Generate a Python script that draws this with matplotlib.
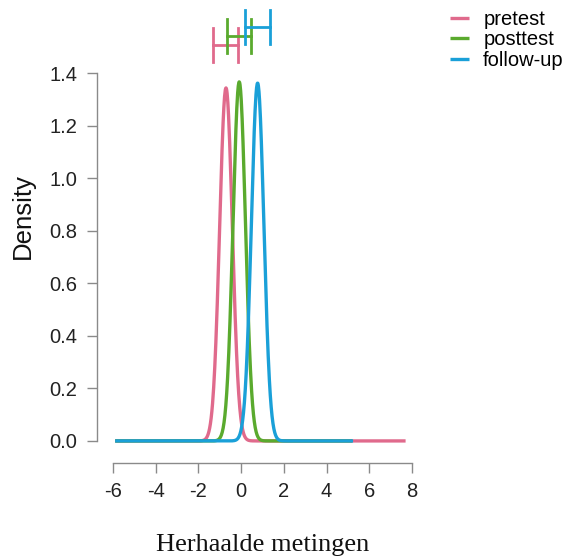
import matplotlib.pyplot as plt
import numpy as np

groups = ['pretest', 'posttest', 'follow-up']
colors = ['#E06A8C', '#5AAA2E', '#1AA0D8']
means = [-0.71, -0.09, 0.77]
sds = [0.297, 0.292, 0.293]
x_from = [-5.9, -5.9, -5.9]
x_to = [7.7, 5.2, 5.24]

# 95% credible intervals shown above the plot
ci_low = [-1.31, -0.68, 0.18]
ci_high = [-0.14, 0.46, 1.35]
ci_height = [1.507, 1.541, 1.576]

xticks = [-6, -4, -2, 0, 2, 4, 6, 8]
yticks = [0.0, 0.2, 0.4, 0.6, 0.8, 1.0, 1.2, 1.4]

plt.rcParams['font.family'] = ['Liberation Sans', 'DejaVu Sans']

fig = plt.figure(figsize=(5.71, 5.59), dpi=100)
ax = fig.add_axes([97 / 571, 96 / 559, 315 / 571, 390 / 559])

for name, col, m, s, a, b in zip(groups, colors, means, sds, x_from, x_to):
    xs = np.linspace(a, b, 800)
    ys = np.exp(-0.5 * ((xs - m) / s) ** 2) / (s * np.sqrt(2 * np.pi))
    ax.plot(xs, ys, color=col, lw=2.4, label=name, solid_capstyle='butt')

cap = 0.065
for col, lo, hi, h in zip(colors, ci_low, ci_high, ci_height):
    ax.plot([lo, hi], [h, h], color=col, lw=2.0, clip_on=False)
    ax.plot([lo, lo], [h - cap, h + cap], color=col, lw=2.0, clip_on=False)
    ax.plot([hi, hi], [h - cap, h + cap], color=col, lw=2.0, clip_on=False)

ax.set_xlim(-6.75, 8)
ax.set_ylim(-0.084, 1.4)
ax.set_xticks(xticks)
ax.set_xticklabels([str(t) for t in xticks])
ax.set_yticks(yticks)
ax.set_yticklabels([f'{t:.1f}' for t in yticks])

for side in ['top', 'right']:
    ax.spines[side].set_visible(False)
ax.spines['left'].set_bounds(0, 1.4)
ax.spines['bottom'].set_bounds(-6, 8)
for side in ['left', 'bottom']:
    ax.spines[side].set_color('#8a8a8a')
    ax.spines[side].set_linewidth(1.0)
ax.tick_params(axis='both', colors='#8a8a8a', labelcolor='#222222',
               labelsize=14.5, length=7, width=1.0, pad=7)

ax.set_ylabel('Density', fontsize=18.5, color='#111111')
ax.yaxis.set_label_coords(-0.196, 0.633)
ax.set_xlabel('Herhaalde metingen', fontsize=19, family='Liberation Serif',
              color='#111111')
ax.xaxis.set_label_coords(0.527, -0.183)

fig.legend(loc='upper left', bbox_to_anchor=(450 / 571, 0.982), frameon=False,
           fontsize=14.5, handlelength=0.95, handletextpad=0.7,
           labelspacing=0.065, borderpad=0, borderaxespad=0)

fig.savefig('out.png', dpi=100)
